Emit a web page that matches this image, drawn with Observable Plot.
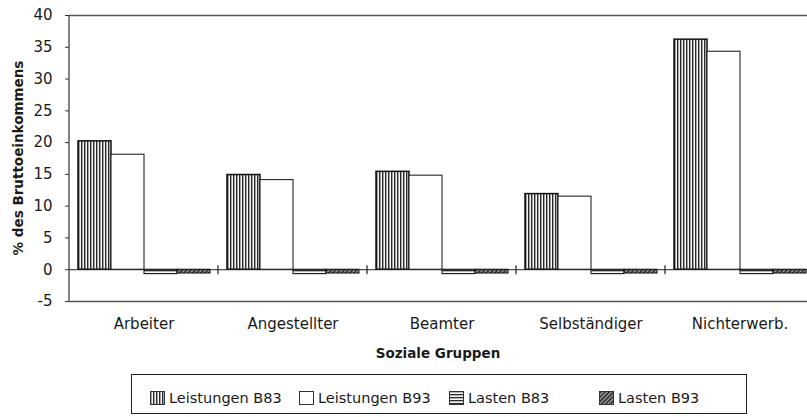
<!DOCTYPE html>
<html>
<head>
<meta charset="utf-8">
<script src="https://cdn.jsdelivr.net/npm/d3@7"></script>
<script src="https://cdn.jsdelivr.net/npm/@observablehq/plot@0.6"></script>
<style>
  html, body { margin: 0; padding: 0; background: #fff; }
  body { font-family: "DejaVu Sans", sans-serif; color: #1a1a1a; }
  #wrap { position: relative; width: 807px; height: 417px; overflow: hidden; }
  #chart { position: absolute; left: 0; top: 0; width: 814px; }
  #chart svg { max-width: none !important; }
  .ytitle { position: absolute; left: 18px; top: 158px; transform: translate(-50%, -50%) rotate(-90deg);
            white-space: nowrap; font-weight: bold; font-size: 13.5px; }
  .xtitle { position: absolute; left: 438px; top: 353px; transform: translate(-50%, -50%);
            white-space: nowrap; font-weight: bold; font-size: 13.5px; }
  #legend { position: absolute; left: 131px; top: 374px; width: 616px; height: 40px;
            box-sizing: border-box; border: 1px solid #222; }
  .item { position: absolute; top: 15px; display: flex; align-items: center; white-space: nowrap; font-size: 14.5px; }
  .item svg { display: block; margin-right: 4px; }
</style>
</head>
<body>
<svg width="0" height="0" style="position:absolute">
  <defs>
    <pattern id="pVert" patternUnits="userSpaceOnUse" width="3" height="3">
      <rect width="3" height="3" fill="#f4f4f4"/>
      <rect width="1.4" height="3" fill="#2a2a2a"/>
    </pattern>
    <pattern id="pHorz" patternUnits="userSpaceOnUse" width="3" height="3">
      <rect width="3" height="3" fill="#f4f4f4"/>
      <rect width="3" height="1.3" fill="#2a2a2a"/>
    </pattern>
    <pattern id="pDiag" patternUnits="userSpaceOnUse" width="3" height="3" patternTransform="rotate(45)">
      <rect width="3" height="3" fill="#3a3a3a"/>
      <rect width="1" height="3" fill="#b0b0b0"/>
    </pattern>
  </defs>
</svg>
<div id="wrap">
  <div id="chart"></div>
  <div class="ytitle">% des Bruttoeinkommens</div>
  <div class="xtitle">Soziale Gruppen</div>
  <div id="legend"></div>
</div>
<script>
// ---- Data ----
const categories = ["Arbeiter", "Angestellter", "Beamter", "Selbständiger", "Nichterwerb."];
const series = ["Leistungen B83", "Leistungen B93", "Lasten B83", "Lasten B93"];
const leistungenB83 = [20.2, 14.9, 15.4, 11.9, 36.2];
const leistungenB93 = [18.1, 14.1, 14.8, 11.5, 34.3];
const lastenB83 = [-0.7, -0.7, -0.7, -0.7, -0.7];
const lastenB93 = [-0.6, -0.6, -0.6, -0.6, -0.6];
const yTicks = [-5, 0, 5, 10, 15, 20, 25, 30, 35, 40];

// ---- Styles ----
const fills = {
  "Leistungen B83": "url(#pVert)",
  "Leistungen B93": "#ffffff",
  "Lasten B83": "url(#pHorz)",
  "Lasten B93": "url(#pDiag)"
};
const valuesBySeries = [leistungenB83, leistungenB93, lastenB83, lastenB93];
const rows = [];
series.forEach((s, si) => categories.forEach((c, ci) => rows.push({group: c, series: s, value: valuesBySeries[si][ci]})));

const plot = Plot.plot({
  width: 814,
  height: 370,
  marginLeft: 69,
  marginRight: 0,
  marginTop: 15,
  marginBottom: 69,
  style: {fontFamily: "DejaVu Sans, sans-serif", fontSize: "15px", color: "#1a1a1a", background: "transparent", maxWidth: "none"},
  fx: {domain: categories, padding: 0, label: null},
  x: {domain: series, paddingInner: 0, paddingOuter: 0.236, axis: null},
  y: {domain: [-5, 40], label: null},
  marks: [
    Plot.ruleY([40, -5], {stroke: "#555", strokeWidth: 1.5}),
    ...series.map(s => Plot.barY(rows.filter(d => d.series === s), {
      fx: "group", x: "series", y: "value",
      fill: fills[s], stroke: "#111", strokeWidth: s === "Leistungen B83" ? 1.5 : 1
    })),
    Plot.ruleY([0], {stroke: "#222", strokeWidth: 1}),
    Plot.axisY({ticks: yTicks, tickSize: 4, tickPadding: 13, fontSize: 15, label: null, tickFormat: d => String(d), stroke: "#333"}),
    Plot.axisFx({anchor: "bottom", tickSize: 0, tickPadding: 17, fontSize: 15, label: null})
  ]
});
plot.style.maxWidth = "none";
plot.style.width = "814px";
plot.style.height = "370px";
document.getElementById("chart").appendChild(plot);

// Left axis line and group separator ticks, positioned through the plot's own scales
const fx = plot.scale("fx"), y = plot.scale("y");
const ns = "http://www.w3.org/2000/svg";
function line(x1, y1, x2, y2, stroke, w) {
  const l = document.createElementNS(ns, "line");
  l.setAttribute("x1", x1); l.setAttribute("y1", y1);
  l.setAttribute("x2", x2); l.setAttribute("y2", y2);
  l.setAttribute("stroke", stroke); l.setAttribute("stroke-width", w);
  plot.appendChild(l);
}
const x0 = fx.apply(categories[0]);
line(x0, y.apply(40), x0, y.apply(-5), "#333", 1.2);
categories.slice(1).forEach(c => {
  const xc = fx.apply(c);
  line(xc, y.apply(0) - 4, xc, y.apply(0) + 5, "#222", 1.2);
});

// Legend
const legend = document.getElementById("legend");
const itemLeft = [18, 167, 317, 467];
series.forEach((s, i) => {
  const item = document.createElement("div");
  item.className = "item";
  item.style.left = itemLeft[i] + "px";
  item.innerHTML = `<svg width="15" height="14"><rect x="0.5" y="0.5" width="14" height="13" fill="${fills[s]}" stroke="#333" stroke-width="1"/></svg><span>${s}</span>`;
  legend.appendChild(item);
});
</script>
</body>
</html>
